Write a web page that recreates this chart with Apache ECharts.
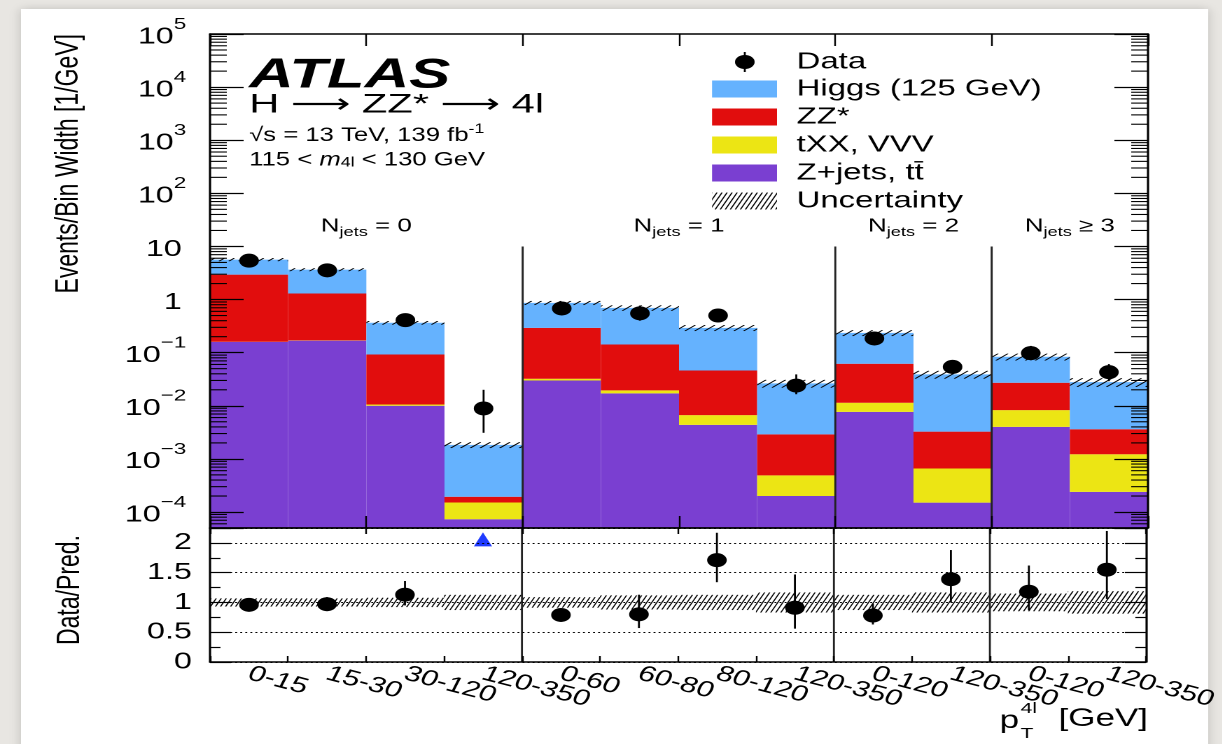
<!DOCTYPE html>
<html>
<head>
<meta charset="utf-8">
<script src="https://cdn.jsdelivr.net/npm/echarts@6.0.0/dist/echarts.min.js"></script>
<style>
html, body { margin: 0; padding: 0; background: #e8e6e2; }
#wrap { width: 1222px; height: 744px; overflow: hidden; position: relative; }
/* the reference figure is stretched sideways, so the chart is drawn narrow and widened */
#main { width: 873px; height: 744px; transform: scaleX(1.4); transform-origin: 0 0; }
</style>
</head>
<body>
<div id="wrap"><div id="main"></div></div>
<script>
// bins of pT(4l), grouped by jet multiplicity
var categories = ['0-15', '15-30', '30-120', '120-350', '0-60', '60-80', '80-120', '120-350', '0-120', '120-350', '0-120', '120-350'];
var njetsText = [' = 0', ' = 1', ' = 2', ' \u2265 3'];
var njetsFirst = [0, 4, 8, 10];
var njetsLast = [3, 7, 9, 11];
var dividers = [4, 8, 10];

// expected events / bin width, per process
var zjets = [0.160, 0.169, 0.0100, 0.000073, 0.030, 0.0171, 0.00436, 0.00020, 0.0077, 0.00015, 0.0040, 0.00024];
var txx = [0.0010, 0.0010, 0.0006, 0.000078, 0.0023, 0.0024, 0.0023, 0.00029, 0.0037, 0.00051, 0.0043, 0.00098];
var zzStar = [2.79, 1.13, 0.082, 0.000043, 0.261, 0.123, 0.0395, 0.0024, 0.0504, 0.0026, 0.0189, 0.0024];
var higgs = [2.70, 2.36, 0.273, 0.00164, 0.572, 0.554, 0.247, 0.0235, 0.174, 0.0357, 0.0564, 0.0243];
var uncRel = [0.07, 0.07, 0.08, 0.13, 0.09, 0.12, 0.13, 0.17, 0.13, 0.17, 0.15, 0.19];

// data
var dataVal = [5.40, 3.55, 0.41, 0.0089, 0.68, 0.55, 0.50, 0.024, 0.185, 0.054, 0.098, 0.043];
var dataLo = [5.10, 3.20, 0.345, 0.0031, 0.60, 0.40, 0.39, 0.0165, 0.150, 0.039, 0.072, 0.029];
var dataHi = [5.75, 3.85, 0.49, 0.020, 0.76, 0.77, 0.63, 0.039, 0.234, 0.073, 0.134, 0.061];

// ratio panel
var ratioVal = [0.96, 0.97, 1.13, 4.85, 0.79, 0.80, 1.71, 0.91, 0.78, 1.39, 1.18, 1.55];
var ratioLo = [0.91, 0.87, 0.95, 4.85, 0.69, 0.57, 1.34, 0.56, 0.63, 1.00, 0.87, 1.06];
var ratioHi = [1.02, 1.09, 1.36, 4.85, 0.88, 1.13, 2.17, 1.47, 0.98, 1.88, 1.62, 2.20];

var FONT = '"Liberation Sans", Arial, Helvetica, sans-serif';
var yMin = 5e-5, yMax = 1e5;
var rMin = 0, rMax = 2.25;
var arrowAt = 2.05;
var njetsLabelAt = 14;
var dividerTopAt = 10;

var colors = { zjets: '#7a3fd1', txx: '#ece514', zz: '#e10d0d', higgs: '#65b2fe', arrow: '#1f3bff' };

// stacked histogram pieces [bin, top, bottom]
var comps = [zjets, txx, zzStar, higgs];
var compColors = [colors.zjets, colors.txx, colors.zz, colors.higgs];
var compNames = ['Z+jets, tt\u0304', 'tXX, VVV', 'ZZ*', 'Higgs (125 GeV)'];
var cum = categories.map(function () { return 0; });
var stackData = comps.map(function (arr) {
  return arr.map(function (v, i) {
    var b = cum[i];
    cum[i] = b + v;
    return [i, cum[i], b];
  });
});
var totals = cum.slice();

function line(x1, y1, x2, y2, w, c) {
  return { type: 'line', shape: { x1: x1, y1: y1, x2: x2, y2: y2 }, style: { stroke: c || '#000', lineWidth: w || 1 } };
}

function hatch(x0, x1, yT, yB, slope, gap, lw) {
  var dc = slope * gap, kids = [];
  var cMin = yT + slope * x0, cMax = yB + slope * x1;
  for (var c = Math.floor(cMin / dc) * dc; c <= cMax + dc; c += dc) {
    kids.push(line((c - yB) / slope, yB, (c - yT) / slope, yT, lw));
  }
  return { type: 'group', clipPath: { type: 'rect', shape: { x: x0, y: yT, width: x1 - x0, height: yB - yT } }, children: kids };
}

function stackRender(color) {
  return function (params, api) {
    var i = api.value(0);
    var top = api.coord([i, api.value(1)]);
    var cs = params.coordSys;
    var b = api.value(2);
    var yb = b > 0 ? api.coord([i, b])[1] : cs.y + cs.height;
    var w = api.size([1, 0])[0];
    return { type: 'rect', shape: { x: top[0] - w / 2, y: top[1], width: w, height: yb - top[1] }, style: { fill: color } };
  };
}

function bandRender(slope, gap) {
  return function (params, api) {
    var i = api.value(0);
    var pT = api.coord([i, api.value(2)]);
    var pB = api.coord([i, api.value(1)]);
    var w = api.size([1, 0])[0];
    return hatch(pT[0] - w / 2, pT[0] + w / 2, pT[1], pB[1], slope, gap, 0.9);
  };
}

function pointRender(maxVal) {
  return function (params, api) {
    var i = api.value(0), v = api.value(1);
    if (maxVal != null && v > maxVal) {
      var a = api.coord([i, arrowAt]);
      return { type: 'polygon', shape: { points: [[a[0], a[1] - 7.5], [a[0] - 6.5, a[1] + 6.5], [a[0] + 6.5, a[1] + 6.5]] }, style: { fill: colors.arrow } };
    }
    var c = api.coord([i, v]);
    var lo = api.coord([i, api.value(2)]);
    var hi = api.coord([i, api.value(3)]);
    return { type: 'group', children: [
      line(c[0], hi[1], c[0], lo[1], 1.4),
      { type: 'circle', shape: { cx: c[0], cy: c[1], r: 7 }, style: { fill: '#000' } }
    ] };
  };
}

function dividerRender(params, api) {
  var idx = api.value(0);
  var p = api.coord([idx, api.value(1)]);
  var w = api.size([1, 0])[0];
  var cs = params.coordSys;
  return line(p[0] - w / 2, p[1], p[0] - w / 2, cs.y + cs.height, 1.4, '#222');
}

function njetsRender(params, api) {
  var a = api.coord([api.value(0), api.value(1)]);
  var b = api.coord([api.value(2), api.value(1)]);
  var g = api.value(3);
  return { type: 'text', x: (a[0] + b[0]) / 2, y: a[1], style: {
    text: '{n|N}{s|jets}{n|' + njetsText[g] + '}', align: 'center', verticalAlign: 'bottom',
    rich: {
      n: { fontSize: 18.5, fontFamily: FONT, fill: '#000', verticalAlign: 'top' },
      s: { fontSize: 13, fontFamily: FONT, fill: '#000', padding: [9, 0, 0, 0], verticalAlign: 'top' }
    } } };
}

function logMinorRender(params, api) {
  var cs = params.coordSys, kids = [];
  for (var e = -5; e <= 4; e++) {
    for (var k = 2; k <= 9; k++) {
      var v = k * Math.pow(10, e);
      if (v < yMin || v > yMax) continue;
      var y = api.coord([0, v])[1];
      kids.push(line(cs.x, y, cs.x + 12, y, 1.1));
      kids.push(line(cs.x + cs.width - 12, y, cs.x + cs.width, y, 1.1));
    }
  }
  return { type: 'group', children: kids };
}

function logLabel(v) {
  var e = Math.log10(v), r = Math.round(e);
  if (Math.abs(e - r) > 1e-6) return '';
  if (r === 0) return '{b|1}{s|\u2009}';
  if (r === 1) return '{b|10}{s|\u2009}';
  return '{b|10}{s|' + (r < 0 ? '\u2212' + (-r) : r) + '}';
}

var lineStyle = { color: '#000', width: 1.6 };
var tickStyle = { color: '#000', width: 1.2 };

function catAxis(grid, pos, tickLen, labels) {
  return {
    type: 'category', gridIndex: grid, position: pos, data: categories, z: 10,
    axisLine: { show: true, onZero: false, lineStyle: lineStyle },
    axisTick: { show: true, inside: true, length: tickLen, lineStyle: tickStyle },
    axisLabel: labels ? {
      show: true, interval: 0, rotate: -20, align: 'left', verticalAlign: 'middle', margin: 11,
      fontSize: 22, fontFamily: FONT, color: '#000'
    } : { show: false },
    splitLine: { show: false }
  };
}

function logAxis(pos, labels) {
  return {
    type: 'log', logBase: 10, gridIndex: 0, position: pos, min: yMin, max: yMax, z: 10,
    axisLine: { show: true, onZero: false, lineStyle: lineStyle },
    axisTick: { show: true, inside: true, length: 24, lineStyle: tickStyle },
    axisLabel: labels ? {
      show: true, margin: 17, formatter: logLabel,
      rich: {
        b: { fontSize: 23, fontFamily: FONT, color: '#000', padding: [0, 0, 3, 0], verticalAlign: 'bottom' },
        s: { fontSize: 16, fontFamily: FONT, color: '#000', padding: [0, 0, 19, 0], verticalAlign: 'bottom' }
      }
    } : { show: false },
    splitLine: { show: false }
  };
}

function ratioAxis(pos, labels) {
  return {
    type: 'value', gridIndex: 1, position: pos, min: rMin, max: rMax, interval: 0.5, z: 10,
    axisLine: { show: true, onZero: false, lineStyle: lineStyle },
    axisTick: { show: true, inside: true, length: 15, lineStyle: tickStyle },
    minorTick: { show: true, splitNumber: 2, length: 7.5, lineStyle: tickStyle },
    axisLabel: labels ? {
      show: true, margin: 13, fontSize: 23, fontFamily: FONT, color: '#000',
      formatter: function (v) { return v > 2.2 ? '' : String(v); }
    } : { show: false },
    splitLine: labels ? { show: true, lineStyle: { color: '#000', width: 1, type: [1.4, 2.2] } } : { show: false }
  };
}

var series = [];
stackData.forEach(function (d, k) {
  series.push({ type: 'custom', name: compNames[k], xAxisIndex: 0, yAxisIndex: 0, z: 2, clip: true,
    renderItem: stackRender(compColors[k]), data: d });
});
series.push({ type: 'custom', name: 'Uncertainty', xAxisIndex: 0, yAxisIndex: 0, z: 3, clip: true,
  renderItem: bandRender(0.8, 7),
  data: totals.map(function (t, i) { return [i, t * (1 - uncRel[i]), t * (1 + uncRel[i])]; }) });
series.push({ type: 'custom', xAxisIndex: 0, yAxisIndex: 0, z: 4, renderItem: dividerRender,
  data: dividers.map(function (d) { return [d, dividerTopAt]; }) });
series.push({ type: 'custom', xAxisIndex: 0, yAxisIndex: 0, z: 5, renderItem: njetsRender,
  data: njetsFirst.map(function (f, g) { return [f, njetsLabelAt, njetsLast[g], g]; }) });
series.push({ type: 'custom', name: 'Data', xAxisIndex: 0, yAxisIndex: 0, z: 6, clip: true,
  renderItem: pointRender(null),
  data: dataVal.map(function (v, i) { return [i, v, dataLo[i], dataHi[i]]; }) });
series.push({ type: 'custom', xAxisIndex: 0, yAxisIndex: 0, z: 12, renderItem: logMinorRender, data: [[0, 1]] });

series.push({ type: 'custom', xAxisIndex: 2, yAxisIndex: 2, z: 3, clip: true,
  renderItem: bandRender(2, 3.6),
  data: uncRel.map(function (u, i) { return [i, 1 - u, 1 + u]; }) });
series.push({ type: 'custom', xAxisIndex: 2, yAxisIndex: 2, z: 4, renderItem: dividerRender,
  data: dividers.map(function (d) { return [d, rMax]; }) });
series.push({ type: 'custom', xAxisIndex: 2, yAxisIndex: 2, z: 6, clip: true,
  renderItem: pointRender(rMax),
  data: ratioVal.map(function (v, i) { return [i, v, ratioLo[i], ratioHi[i]]; }) });

// legend, drawn by hand to copy the ROOT look
var legX = 508.6, legW = 46.4, legH = 17, legText = 569;
var legRows = [62, 89, 117, 145, 173, 201];
var legendKids = [
  line(532, legRows[0] - 10, 532, legRows[0] + 10, 1.4),
  { type: 'circle', shape: { cx: 532, cy: legRows[0], r: 7 }, style: { fill: '#000' } }
];
var legColors = [colors.higgs, colors.zz, colors.txx, colors.zjets];
var legNames = ['Data', 'Higgs (125 GeV)', 'ZZ*', 'tXX, VVV', 'Z+jets, tt\u0304', 'Uncertainty'];
legColors.forEach(function (c, k) {
  legendKids.push({ type: 'rect', shape: { x: legX, y: legRows[k + 1] - legH / 2, width: legW, height: legH }, style: { fill: c } });
});
legendKids.push(hatch(legX, legX + legW, legRows[5] - legH / 2, legRows[5] + legH / 2, 2, 3.6, 0.9));
legNames.forEach(function (n, k) {
  legendKids.push({ type: 'text', x: legText, y: legRows[k], style: { text: n, fontSize: 23.5, fontFamily: FONT, fill: '#000', align: 'left', verticalAlign: 'middle' } });
});

var txtRich = {
  n: { fontSize: 19.5, fontFamily: FONT, fill: '#000', verticalAlign: 'bottom' },
  i: { fontSize: 19.5, fontFamily: FONT, fontStyle: 'italic', fill: '#000', verticalAlign: 'bottom' },
  sup: { fontSize: 13.5, fontFamily: FONT, fill: '#000', padding: [0, 0, 9, 0], verticalAlign: 'bottom' },
  sub: { fontSize: 13.5, fontFamily: FONT, fill: '#000', padding: [0, 0, 0, 0], verticalAlign: 'bottom' }
};

var option = {
  backgroundColor: 'transparent',
  animation: false,
  grid: [
    { left: 150, top: 34, width: 670, height: 494 },
    { left: 150, top: 528, width: 670, height: 134 }
  ],
  xAxis: [catAxis(0, 'bottom', 12, false), catAxis(0, 'top', 12, false), catAxis(1, 'bottom', 6, true), catAxis(1, 'top', 6, false)],
  yAxis: [logAxis('left', true), logAxis('right', false), ratioAxis('left', true), ratioAxis('right', false)],
  series: series,
  graphic: [
    { type: 'rect', z: -100, shape: { x: 15, y: 9, width: 848, height: 760 },
      style: { fill: '#ffffff', shadowBlur: 8, shadowColor: 'rgba(0,0,0,0.18)' } },
    { type: 'text', x: 178, y: 76, scaleX: 1.05, style: { text: 'ATLAS', fontSize: 42, fontWeight: 'bold', fontStyle: 'italic', fontFamily: FONT, fill: '#000', align: 'left', verticalAlign: 'middle' } },
    { type: 'text', x: 178, y: 105, scaleX: 1.1, style: { text: 'H \u27F6 ZZ* \u27F6 4l', fontSize: 27, fontFamily: FONT + ', "DejaVu Sans"', fill: '#000', align: 'left', verticalAlign: 'middle' } },
    { type: 'text', x: 178, y: 134, scaleX: 0.94, style: { text: '{n|\u221As = 13 TeV, 139 fb}{sup|-1}', rich: txtRich, align: 'left', verticalAlign: 'middle' } },
    { type: 'text', x: 178, y: 160, scaleX: 0.94, style: { text: '{n|115 < }{i|m}{sub|4l}{n| < 130 GeV}', rich: txtRich, align: 'left', verticalAlign: 'middle' } },
    { type: 'group', children: legendKids },
    { type: 'text', x: 49, y: 34, rotation: Math.PI / 2, style: { text: 'Events/Bin Width [1/GeV]', fontSize: 23, fontFamily: FONT, fill: '#000', align: 'right', verticalAlign: 'middle' } },
    { type: 'text', x: 50, y: 590, rotation: Math.PI / 2, style: { text: 'Data/Pred.', fontSize: 23, fontFamily: FONT, fill: '#000', align: 'center', verticalAlign: 'middle' } },
    { type: 'text', x: 714, y: 721, style: { text: 'p', fontSize: 25, fontFamily: FONT, fill: '#000', align: 'left', verticalAlign: 'middle' } },
    { type: 'text', x: 729, y: 709, style: { text: '4l', fontSize: 15, fontFamily: FONT, fill: '#000', align: 'left', verticalAlign: 'middle' } },
    { type: 'text', x: 729, y: 734, style: { text: 'T', fontSize: 15, fontFamily: FONT, fill: '#000', align: 'left', verticalAlign: 'middle' } },
    { type: 'text', x: 820, y: 719, style: { text: '[GeV]', fontSize: 25, fontFamily: FONT, fill: '#000', align: 'right', verticalAlign: 'middle' } }
  ]
};

var chart = echarts.init(document.getElementById('main'), null, { renderer: 'canvas', devicePixelRatio: 2 });
chart.setOption(option);
</script>
</body>
</html>
